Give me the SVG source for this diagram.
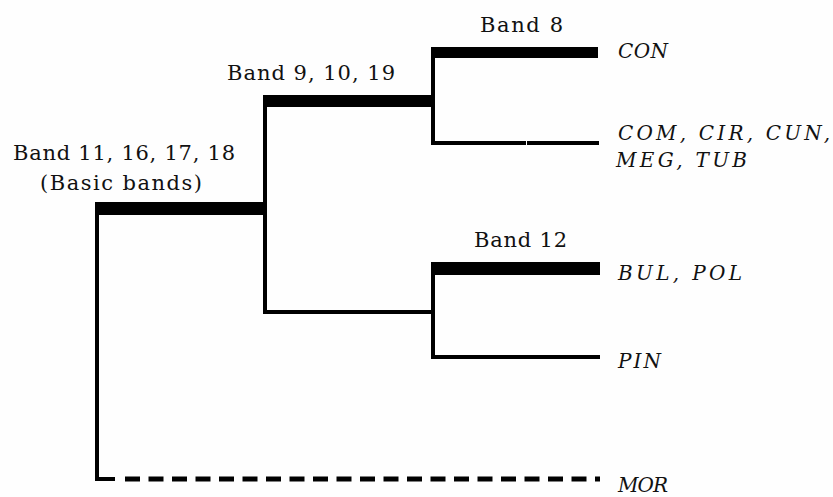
<svg xmlns="http://www.w3.org/2000/svg" width="833" height="497" viewBox="0 0 833 497">
<style>
.bg{fill:#fefefe}
.thin{stroke:#000;stroke-width:4;fill:none;stroke-linecap:square}
.bar{fill:#000}
.dash{stroke:#000;stroke-width:5;fill:none;stroke-dasharray:15 8.5}
.lbl{font-family:"DejaVu Serif","Liberation Serif",serif;font-size:21px;fill:#111}
.tax{font-family:"DejaVu Serif","Liberation Serif",serif;font-style:italic;font-size:20px;fill:#111}
</style>
<rect class="bg" x="0" y="0" width="833" height="497"/>
<g id="connectors">
  <line class="thin" x1="97" y1="204" x2="97" y2="479"/>
  <line class="thin" x1="97" y1="479" x2="113" y2="479"/>
  <line class="dash" x1="125" y1="479" x2="600" y2="479"/>
  <line class="thin" x1="265" y1="97" x2="265" y2="312"/>
  <line class="thin" x1="265" y1="312" x2="433" y2="312"/>
  <line class="thin" x1="433" y1="49" x2="433" y2="143"/>
  <line class="thin" x1="433" y1="143" x2="524" y2="143"/>
  <line class="thin" x1="529" y1="143" x2="597" y2="143"/>
  <line class="thin" x1="433" y1="264" x2="433" y2="357"/>
  <line class="thin" x1="433" y1="357" x2="598" y2="357"/>
</g>
<g id="node-basic">
  <rect class="bar" x="95" y="202" width="170" height="13"/>
  <text class="lbl" x="124" y="160" text-anchor="middle" textLength="222" lengthAdjust="spacing">Band 11, 16, 17, 18</text>
  <text class="lbl" x="121" y="190" text-anchor="middle" textLength="162" lengthAdjust="spacing">(Basic bands)</text>
</g>
<g id="node-band9">
  <rect class="bar" x="263" y="95" width="171" height="12"/>
  <text class="lbl" x="227" y="80" textLength="168" lengthAdjust="spacing">Band 9, 10, 19</text>
</g>
<g id="node-band8">
  <rect class="bar" x="431" y="47" width="167" height="11"/>
  <text class="lbl" x="480" y="32" textLength="83" lengthAdjust="spacing">Band 8</text>
</g>
<g id="node-band12">
  <rect class="bar" x="431" y="262" width="169" height="13"/>
  <text class="lbl" x="474" y="247" textLength="93" lengthAdjust="spacing">Band 12</text>
</g>
<g id="node-con"><text class="tax" x="618" y="58" textLength="50" lengthAdjust="spacing">CON</text></g>
<g id="node-com">
  <text class="tax" x="618" y="140" textLength="212" lengthAdjust="spacing">COM, CIR, CUN,</text>
  <text class="tax" x="616" y="167" textLength="131" lengthAdjust="spacing">MEG, TUB</text>
</g>
<g id="node-bul"><text class="tax" x="618" y="280" textLength="124" lengthAdjust="spacing">BUL, POL</text></g>
<g id="node-pin"><text class="tax" x="618" y="368" textLength="43" lengthAdjust="spacing">PIN</text></g>
<g id="node-mor"><text class="tax" x="618" y="492" textLength="50" lengthAdjust="spacing">MOR</text></g>
</svg>
